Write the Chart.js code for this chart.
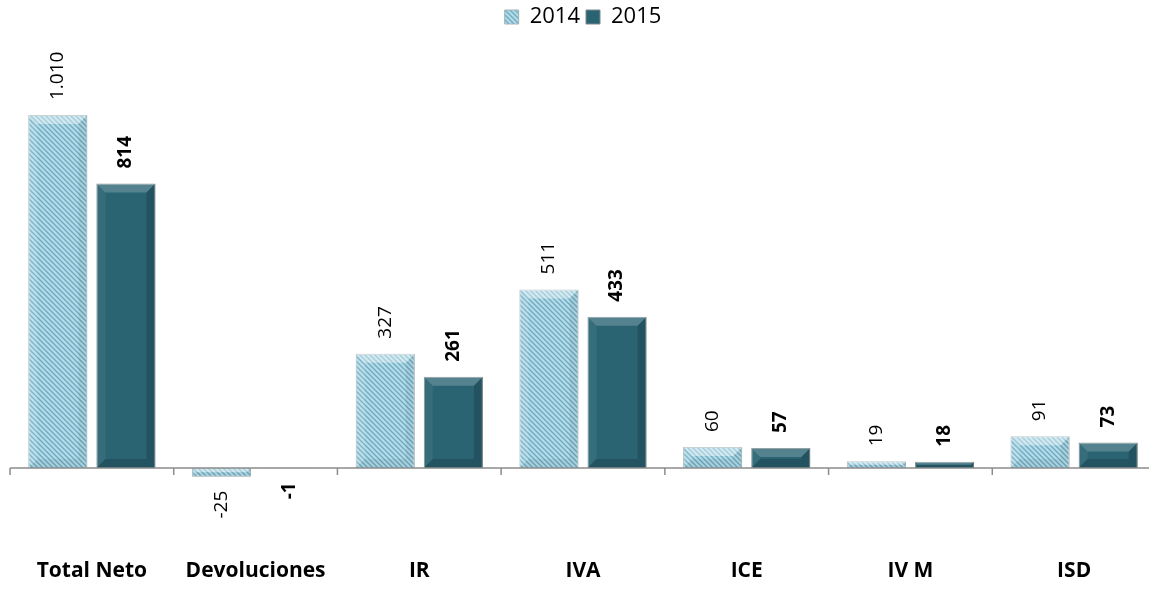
<!DOCTYPE html>
<html>
<head>
<meta charset="utf-8">
<script src="https://cdn.jsdelivr.net/npm/chart.js@4"></script>
<style>
  html, body { margin: 0; padding: 0; background: #fff; overflow: hidden; }
  #wrap { width: 1156px; height: 589px; position: relative; }
</style>
</head>
<body>
<div id="wrap"><canvas id="recaudacion"></canvas></div>
<script>
// Datos
const categorias = ['Total Neto', 'Devoluciones', 'IR', 'IVA', 'ICE', 'IV M', 'ISD'];
const valores2014 = [1010, -25, 327, 511, 60, 19, 91];
const valores2015 = [814, -1, 261, 433, 57, 18, 73];
const series = ['2014', '2015'];

// where the zero line sits and how tall one unit is
const ZERO_Y = 468;
const PX_POR_UNIDAD = 0.3495;

// Numero con punto de miles (1.010)
function fmt(v) {
    const s = Math.abs(v).toString().replace(/\B(?=(\d{3})+(?!\d))/g, '.');
    return (v < 0 ? '-' : '') + s;
}

// Trama rayada para 2014
function crearTrama() {
    const c = document.createElement('canvas');
    c.width = 5; c.height = 5;
    const g = c.getContext('2d');
    g.fillStyle = '#b3dcea';
    g.fillRect(0, 0, 5, 5);
    g.strokeStyle = '#6fa9be';
    g.lineWidth = 1.3;
    g.beginPath();
    g.moveTo(-1, -1); g.lineTo(6, 6);
    g.moveTo(-1, 4); g.lineTo(1, 6);
    g.moveTo(4, -1); g.lineTo(6, 1);
    g.stroke();
    return g.createPattern(c, 'repeat');
}

const ctx = document.getElementById('recaudacion').getContext('2d');
const trama = crearTrama();

// Bisel de las barras + eje + etiquetas
const barrasPlugin = {
    id: 'barrasExtra',
    afterDatasetsDraw(chart) {
        const c = chart.ctx;
        chart.data.datasets.forEach((ds, di) => {
            chart.getDatasetMeta(di).data.forEach(bar => {
                const l = bar.x - bar.width / 2, r = bar.x + bar.width / 2;
                const t = Math.min(bar.y, bar.base), b = Math.max(bar.y, bar.base);
                const h = b - t;
                if (h < 1) return;
                const bv = Math.min(9, h / 2, bar.width / 2);
                const caras = di === 1
                    ? ['rgba(255,255,255,0.20)', 'rgba(255,255,255,0.06)', 'rgba(0,0,0,0.16)', 'rgba(0,0,0,0.16)']
                    : ['rgba(255,255,255,0.40)', 'rgba(255,255,255,0.12)', 'rgba(0,0,0,0.06)', 'rgba(0,0,0,0.06)'];
                c.save();
                // arriba
                c.fillStyle = caras[0];
                c.beginPath(); c.moveTo(l, t); c.lineTo(r, t); c.lineTo(r - bv, t + bv); c.lineTo(l + bv, t + bv); c.closePath(); c.fill();
                // izquierda
                c.fillStyle = caras[1];
                c.beginPath(); c.moveTo(l, t); c.lineTo(l + bv, t + bv); c.lineTo(l + bv, b - bv); c.lineTo(l, b); c.closePath(); c.fill();
                // derecha
                c.fillStyle = caras[2];
                c.beginPath(); c.moveTo(r, t); c.lineTo(r, b); c.lineTo(r - bv, b - bv); c.lineTo(r - bv, t + bv); c.closePath(); c.fill();
                // abajo
                c.fillStyle = caras[3];
                c.beginPath(); c.moveTo(l, b); c.lineTo(l + bv, b - bv); c.lineTo(r - bv, b - bv); c.lineTo(r, b); c.closePath(); c.fill();
                c.restore();
            });
        });

        // linea del cero y marcas entre categorias
        const x = chart.scales.x, y = chart.scales.y;
        const y0 = y.getPixelForValue(0);
        c.save();
        c.strokeStyle = '#8c8c8c';
        c.lineWidth = 1.5;
        c.beginPath();
        c.moveTo(chart.chartArea.left, y0);
        c.lineTo(chart.chartArea.right, y0);
        const paso = x.getPixelForValue(1) - x.getPixelForValue(0);
        for (let i = 0; i <= categorias.length; i++) {
            const px = x.getPixelForValue(0) - paso / 2 + i * paso;
            c.moveTo(px, y0);
            c.lineTo(px, y0 + 7);
        }
        c.stroke();
        c.restore();

        // etiquetas de datos giradas
        chart.data.datasets.forEach((ds, di) => {
            chart.getDatasetMeta(di).data.forEach((bar, i) => {
                const v = ds.data[i];
                c.save();
                c.fillStyle = '#000';
                c.font = (di === 1 ? 'bold ' : '') + '19px "Open Sans"';
                c.textBaseline = 'middle';
                if (v >= 0) {
                    c.translate(bar.x, bar.y - 15);
                    c.rotate(-Math.PI / 2);
                    c.textAlign = 'left';
                } else {
                    c.translate(bar.x, bar.y + 14);
                    c.rotate(-Math.PI / 2);
                    c.textAlign = 'right';
                }
                c.fillText(fmt(v), 0, 0);
                c.restore();
            });
        });
    }
};

const chart = new Chart(ctx, {
    type: 'bar',
    data: {
        labels: categorias,
        datasets: [{
            label: series[0],
            data: valores2014,
            backgroundColor: trama,
            borderColor: '#a3b3b8',
            borderWidth: 1,
            categoryPercentage: 0.832,
            barPercentage: 0.868
        }, {
            label: series[1],
            data: valores2015,
            backgroundColor: '#2a6473',
            borderColor: '#7d8a8e',
            borderWidth: 1,
            categoryPercentage: 0.832,
            barPercentage: 0.868
        }]
    },
    options: {
        responsive: true,
        maintainAspectRatio: false,
        animation: false,
        layout: { padding: { left: 10, right: 0, top: 0, bottom: 0 } },
        plugins: {
            legend: {
                position: 'top',
                labels: {
                    boxWidth: 14,
                    boxHeight: 14,
                    padding: 6,
                    color: '#000',
                    font: { family: 'Open Sans', size: 22 }
                }
            },
            tooltip: { enabled: false }
        },
        scales: {
            x: {
                grid: { display: false },
                border: { display: false },
                ticks: {
                    color: '#000',
                    padding: 5,
                    font: { family: 'Open Sans', size: 21, weight: 'bold' }
                }
            },
            y: {
                display: false,
                min: -250,
                max: 1230
            }
        }
    },
    plugins: [barrasPlugin]
});

// ajustar el rango para que el cero quede en su sitio
const area = chart.chartArea;
chart.options.scales.y.min = -(area.bottom - ZERO_Y) / PX_POR_UNIDAD;
chart.options.scales.y.max = (ZERO_Y - area.top) / PX_POR_UNIDAD;
chart.update('none');
</script>
</body>
</html>
